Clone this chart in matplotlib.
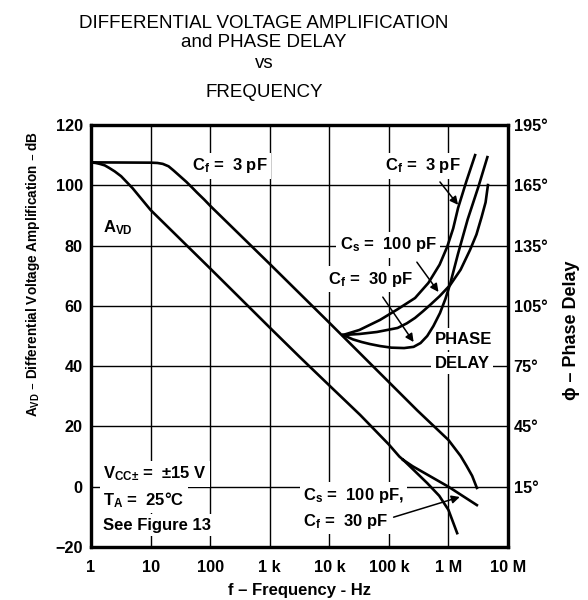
import matplotlib.pyplot as plt
from matplotlib.ticker import NullLocator

# gain, Cf = 3 pF
gain_3pf_f = [1, 10, 13, 16, 20, 24, 30, 40, 50, 60, 80, 100, 1e3, 1e4, 1e5, 3e5, 1e6,
              1.6e6, 2e6, 2.5e6, 3e6]
gain_3pf_db = [107.6, 107.5, 107.4, 107.1, 106.3, 105.0, 103.3, 101.1, 99.2, 97.6, 95.2, 93.2,
               73.9, 54.4, 34.7, 25.3, 15.5, 10.2, 7.0, 3.6, -0.4]

# gain, Cs = 100 pF / Cf = 30 pF (common part, then two branches)
gain_avd_f = [1, 1.2, 1.4, 1.7, 2, 2.5, 3.2, 4, 5, 7, 10, 100, 1e3, 3.2e3, 1e4, 3.3e4,
              1e5, 1.5e5, 1.74e5]
gain_avd_db = [107.6, 107.4, 107.1, 106.6, 105.8, 104.6, 103.0, 101.0, 99.0, 95.5, 91.8,
               72.4, 52.8, 43.0, 33.6, 23.8, 14.0, 10.0, 8.9]
branch_hi_f = [1.74e5, 2.5e5, 4e5, 1e6, 3e6]
branch_hi_db = [8.9, 6.8, 4.5, 0.0, -6.1]
branch_lo_f = [1.74e5, 2.5e5, 4.4e5, 7e5, 1e6, 1.4e6]
branch_lo_db = [8.9, 5.9, 1.2, -3.0, -7.7, -15.4]

# phase delay (degrees)
phase_3pf_f = [1.7e4, 3.2e4, 7.1e4, 1.4e5, 2.75e5, 4.6e5, 7.1e5, 9.5e5, 1.2e6, 1.45e6,
               2e6, 2.8e6]
phase_3pf = [90.5, 93.0, 98.0, 103.3, 108.9, 116.4, 125.5, 134.3, 143.5, 153.7, 167.0, 180.0]
phase_cs_f = [1.7e4, 3.2e4, 6.3e4, 1.4e5, 2e5, 2.75e5, 3.7e5, 4.9e5, 7.1e5, 1.07e6, 1.6e6,
              2.3e6, 2.95e6, 3.6e6, 4.2e6, 4.6e6]
phase_cs = [90.5, 91.0, 92.0, 94.0, 96.3, 99.0, 102.2, 105.4, 109.8, 115.4, 123.0, 132.8,
            140.5, 149.2, 156.5, 165.1]
phase_30pf_f = [1.7e4, 2.5e4, 3.5e4, 4.8e4, 7.1e4, 1.1e5, 1.8e5, 2.6e5, 3.4e5, 4.4e5, 5.6e5,
                7.2e5, 8.9e5, 1.07e6, 1.45e6, 2.1e6, 3.2e6, 4.5e6]
phase_30pf = [90.5, 88.3, 87.0, 86.0, 85.0, 84.2, 84.0, 84.6, 86.5, 90.0, 95.0, 101.4, 108.5,
              116.0, 131.0, 148.0, 164.5, 179.0]

freq_ticks = [1, 10, 100, 1e3, 1e4, 1e5, 1e6, 1e7]
freq_labels = ['1', '10', '100', '1 k', '10 k', '100 k', '1 M', '10 M']
db_ticks = [-20, 0, 20, 40, 60, 80, 100, 120]
db_labels = ['\u221220', '0', '20', '40', '60', '80', '100', '120']
phase_ticks = [15, 45, 75, 105, 135, 165, 195]
phase_labels = ['15\u00b0', '45\u00b0', '75\u00b0', '105\u00b0', '135\u00b0', '165\u00b0', '195\u00b0']

plt.rcParams['font.family'] = ['Liberation Sans', 'DejaVu Sans']
plt.rcParams['mathtext.default'] = 'regular'

fig = plt.figure(figsize=(5.88, 6.0), dpi=100)
ax = fig.add_axes([0.1548, 0.0883, 0.7092, 0.7034])

ax.set_xscale('log')
ax.set_xlim(1, 1e7)
ax.set_ylim(-20, 120)
ax.set_xticks(freq_ticks)
ax.set_xticklabels(freq_labels, fontweight='bold', fontsize=11.7)
ax.xaxis.set_minor_locator(NullLocator())
ax.set_yticks(db_ticks)
ax.set_yticklabels(db_labels, fontweight='bold', fontsize=11.7)
ax.tick_params(axis='both', length=0)
ax.tick_params(axis='x', pad=9)
ax.tick_params(axis='y', pad=6)
ax.grid(True, color='black', lw=1.0)
ax.set_axisbelow(True)
for s in ax.spines.values():
    s.set_linewidth(2.3)

ax2 = ax.twinx()
ax2.set_ylim(-15, 195)
ax2.set_yticks(phase_ticks)
ax2.set_yticklabels(phase_labels, fontweight='bold', fontsize=11.7)
ax2.tick_params(length=0, pad=4)
for s in ax2.spines.values():
    s.set_linewidth(2.3)

lw = 1.9
ax.plot(gain_3pf_f, gain_3pf_db, color='black', lw=lw, zorder=4)
ax.plot(gain_avd_f, gain_avd_db, color='black', lw=lw, zorder=4)
ax.plot(branch_hi_f, branch_hi_db, color='black', lw=lw, zorder=4)
ax.plot(branch_lo_f, branch_lo_db, color='black', lw=lw, zorder=4)
ax2.plot(phase_3pf_f, phase_3pf, color='black', lw=lw)
ax2.plot(phase_cs_f, phase_cs, color='black', lw=lw)
ax2.plot(phase_30pf_f, phase_30pf, color='black', lw=lw)

box = dict(boxstyle='square,pad=0.2', fc='white', ec='none')
lab = dict(fontsize=12, fontweight='bold', ha='left', va='center', zorder=3, bbox=box)
ax.text(50, 106.4, 'C$_{f}$ =  3 pF', **lab)
ax.text(1.6, 85.8, 'A$_{VD}$', **lab)
ax.text(8.7e4, 106.4, 'C$_{f}$ =  3 pF', **lab)
ax.text(1.5e4, 80.2, 'C$_{s}$ =  100 pF', **lab)
ax.text(9.5e3, 68.9, 'C$_{f}$ =  30 pF', **lab)
ax.text(5.9e5, 49.0, 'PHASE', **lab)
ax.text(5.9e5, 41.0, 'DELAY', **lab)
ax.text(1.6, 4.2, 'V$_{CC\u00b1}$ =  \u00b115 V', **lab)
ax.text(1.6, -4.4, 'T$_{A}$ =  25\u00b0C', **lab)
ax.text(1.6, -12.7, 'See Figure 13', **lab)
ax.text(3.6e3, -2.8, 'C$_{s}$ =  100 pF,', **lab)
ax.text(3.6e3, -11.4, 'C$_{f}$ =  30 pF', **lab)

arrow = dict(arrowstyle='-|>', color='black', lw=1.1, mutation_scale=12, shrinkA=0, shrinkB=0)
ax.annotate('', xy=(1.45e6, 93.5), xytext=(7.2e5, 101.1), arrowprops=arrow, zorder=5)
ax.annotate('', xy=(6.8e5, 64.6), xytext=(2.95e5, 74.5), arrowprops=arrow, zorder=5)
ax.annotate('', xy=(2.6e5, 48.0), xytext=(7.9e4, 62.9), arrowprops=arrow, zorder=5)
ax.annotate('', xy=(1.55e6, -3.4), xytext=(1.2e5, -10.1), arrowprops=arrow, zorder=5)

ax.set_xlabel('f \u2013 Frequency - Hz', fontsize=12, fontweight='bold', labelpad=6)
ax.set_ylabel('A$_{VD}$ \u2013 Differential Voltage Amplification \u2013 dB',
              fontsize=9.8, fontweight='bold')
ax.yaxis.set_label_coords(-0.1175, 0.647)
ax2.set_ylabel('\u03d5 \u2013 Phase Delay', fontsize=13, fontweight='bold')
ax2.yaxis.set_label_coords(1.132, 0.514)

fig.text(0.449, 0.9533, 'DIFFERENTIAL VOLTAGE AMPLIFICATION', ha='center', va='baseline', fontsize=13.5)
fig.text(0.449, 0.9217, 'and PHASE DELAY', ha='center', va='baseline', fontsize=13.5)
fig.text(0.449, 0.8867, 'vs', ha='center', va='baseline', fontsize=13.5)
fig.text(0.449, 0.8383, 'FREQUENCY', ha='center', va='baseline', fontsize=13.5)

fig.savefig('out.png', dpi=100)
